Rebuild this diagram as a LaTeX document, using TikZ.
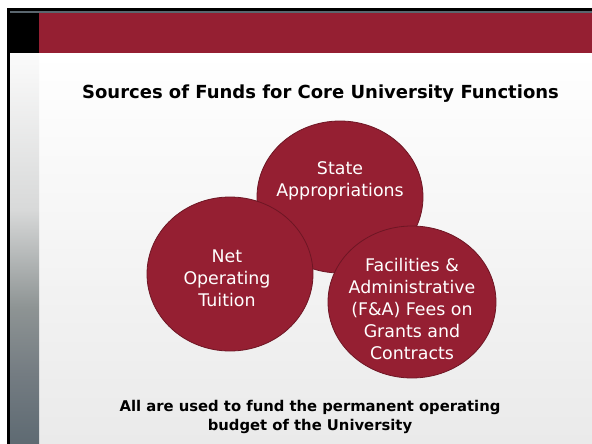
\documentclass[tikz,border=0pt]{standalone}
\usepackage{fontspec}
\setmainfont{DejaVu Sans}
\usetikzlibrary{shapes.geometric}
\definecolor{slidered}{HTML}{951F32}
\definecolor{circline}{HTML}{6E1624}
\definecolor{topgray}{HTML}{5E6A72}
\definecolor{barA}{HTML}{747C82}
\definecolor{barB}{HTML}{8E9494}
\definecolor{barC}{HTML}{D8D9D9}
\definecolor{barD}{HTML}{FBFBFB}
\definecolor{bgbottom}{HTML}{EAEAEA}
\definecolor{stripgray}{HTML}{5A666E}
\pgfdeclareverticalshading{leftbarshade}{100bp}{color(0bp)=(topgray); color(25bp)=(topgray); color(34bp)=(barA); color(42.5bp)=(barB); color(55bp)=(barC); color(75bp)=(barD); color(100bp)=(barD)}
\tikzset{
  fundcircle/.style={ellipse, draw=circline, line width=0.8pt, fill=slidered, inner sep=0pt},
  circtext/.style={text=white, align=center, font=\fontsize{17.4}{22}\selectfont},
  titletext/.style={font=\bfseries\fontsize{18}{21}\selectfont, text=black},
  foottext/.style={font=\bfseries\fontsize{14.8}{19}\selectfont, align=center, text=black}
}
\begin{document}
\begin{tikzpicture}[x=1pt,y=-1pt]
\useasboundingbox (0,0) rectangle (592,444);
\fill[white] (0,0) rectangle (592,444);
% background
\shade[top color=white, bottom color=bgbottom] (39,53) rectangle (592,444);
% left bar
\shade[shading=leftbarshade] (10,53) rectangle (39,444);
% top red band
\fill[slidered] (39,13.3) rectangle (592,53);
\fill[black] (7,13.3) rectangle (39,53);
\fill[stripgray] (10,10.7) rectangle (592,13.3);
\fill[black] (7,8) rectangle (592,10.7);
\fill[black] (7,8) rectangle (10,444);
% title
\node[titletext, anchor=base] (title) at (320.5,99) {Sources of Funds for Core University Functions};
% circles
\node[fundcircle, minimum width=166, minimum height=152] (state) at (340,197) {};
\node[fundcircle, minimum width=166, minimum height=154] (net) at (230,274) {};
\node[fundcircle, minimum width=168, minimum height=152] (fa) at (412,302) {};
\node[circtext] (statetxt) at (340,181) {State\\Appropriations};
\node[circtext] (nettxt) at (227,278) {Net\\Operating\\Tuition};
\node[circtext] (fatxt) at (412,309) {Facilities \&\\Administrative\\(F\&A) Fees on\\Grants and\\Contracts};
% footer
\node[foottext, anchor=base] (foot) at (310,430) {All are used to fund the permanent operating\\budget of the University};
\end{tikzpicture}
\end{document}
